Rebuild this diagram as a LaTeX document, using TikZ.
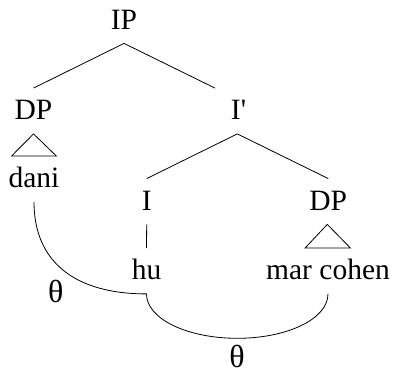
\documentclass[tikz,border=0pt]{standalone}
\usepackage{fontspec}
\setmainfont{Liberation Serif}
% same face without the TeX quote mapping, for a straight prime
\newfontfamily\plainrm{Liberation Serif}[Ligatures=ResetAll]
\begin{document}
\begin{tikzpicture}[x=1pt, y=-1pt,
  every path/.style={line width=0.8pt},
  cat/.style={font=\fontsize{29.5}{34}\selectfont, anchor=base,
    text height=19pt, text depth=1pt, inner xsep=1pt, inner ysep=12.5pt},
  role/.style={font=\fontsize{32}{36}\selectfont, anchor=center, inner sep=0pt}]
\useasboundingbox (0,0) rectangle (394,374);

% tree nodes (positions are baselines)
\node[cat] (ip)   at (124,29.5) {IP};
\node[cat] (dp1)  at (33.5,120) {DP};
\node[cat] (ibar) at (238.5,120) {{\plainrm I'}};
\node[cat] (dani) at (34,188) {dani};
\node[cat] (infl) at (146.7,210.5) {I};
\node[cat] (dp2)  at (328.3,210.5) {DP};
\node[cat] (hu)   at (146.5,280) {hu};
\node[cat] (mc)   at (328,280) {mar cohen};

% theta labels
\node[role] (th1) at (55.7,291.7) {θ};
\node[role] (th2) at (237,356) {θ};

% branches
\draw (ip.south) -- (dp1.north);
\draw (ip.south) -- ([xshift=-23.5pt]ibar.north);
\draw ([xshift=-1.2pt]ibar.south) -- (infl.north);
\draw ([xshift=-1.2pt]ibar.south) -- (dp2.north);
\draw (infl.south) -- (hu.north);

% triangles over phrasal leaves
\draw (dp1.south) -- ([xshift=-22.5pt]dani.north) -- ([xshift=22.5pt]dani.north) -- cycle;
\draw ([xshift=-1pt]dp2.south) -- ([xshift=-23pt]mc.north) -- ([xshift=22.5pt]mc.north) -- cycle;

% theta-role links
\coordinate (thbot) at (237.3,338.3);
\draw (dani.south) .. controls +(0,60.5) and +(-71,0) .. (hu.south);
\draw (hu.south) .. controls +(0,25) and +(-50,0) .. (thbot)
                 .. controls +(50,0) and +(0,25) .. (mc.south);
\end{tikzpicture}
\end{document}
